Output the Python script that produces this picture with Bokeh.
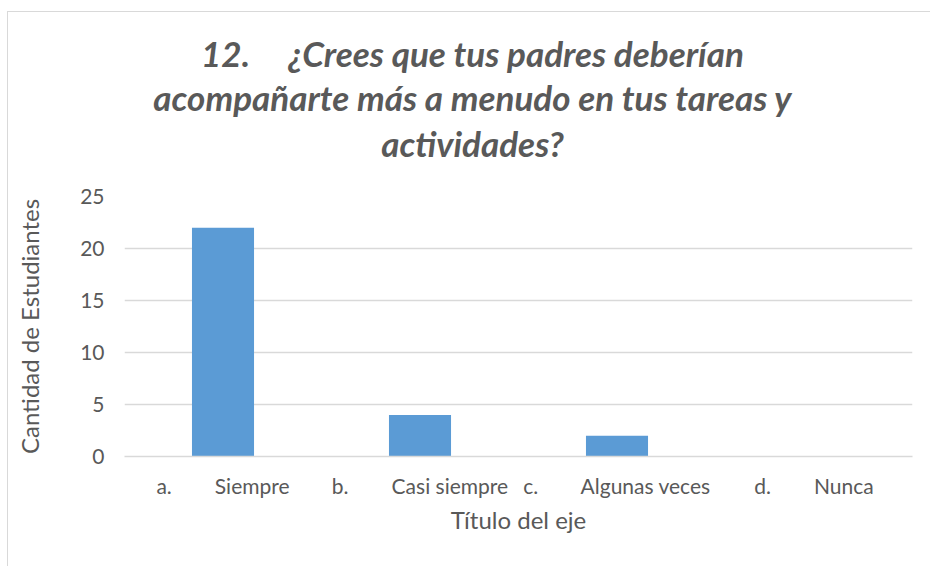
from bokeh.plotting import figure
from bokeh.models import FactorRange, Title, SingleIntervalTicker
from bokeh.embed import file_html
from bokeh.resources import INLINE

NB = "\u00a0"
letters = ["a.", "b.", "c.", "d."]
words = ["Siempre", "Casi siempre", "Algunas veces", "Nunca"]
values = [22, 4, 2, 0]
title_lines = ["12." + NB * 5 + "¿Crees que tus padres deberían",
               "acompañarte más a menudo en tus tareas y",
               "actividades?"]
y_label = "Cantidad de Estudiantes"
x_label = "Título del eje"

cats = [l + NB * 8 + w for l, w in zip(letters, words)]

FONT = "Lato"
GREY = "#595959"
LINE = "#d9d9d9"

p = figure(width=930, height=566, x_range=FactorRange(factors=cats), y_range=(0, 25),
           output_backend="svg", toolbar_location=None,
           min_border_left=124, min_border_right=18, min_border_top=196, min_border_bottom=110)
p.outline_line_color = None
p.background_fill_color = "white"
p.border_fill_color = None
grad = f"linear-gradient({LINE}, {LINE})"
p.styles = {
    "background-color": "white",
    "background-image": f"{grad}, {grad}",
    "background-position": "7px 11px, 7px 11px",
    "background-size": "1px 100%, 100% 1px",
    "background-repeat": "no-repeat, no-repeat",
}

p.vbar(x=cats, top=values, width=0.315, color="#5b9bd5", line_color=None)

p.yaxis.ticker = SingleIntervalTicker(interval=5)
p.ygrid.grid_line_color = LINE
p.ygrid.grid_line_width = 1.5
p.xgrid.grid_line_color = None

for ax in (p.xaxis[0], p.yaxis[0]):
    ax.major_tick_line_color = None
    ax.minor_tick_line_color = None
    ax.major_label_text_font = FONT
    ax.major_label_text_color = GREY
    ax.major_label_text_font_size = "21px"
    ax.axis_label_text_font = FONT
    ax.axis_label_text_color = GREY
    ax.axis_label_text_font_size = "24px"
    ax.axis_label_text_font_style = "normal"

p.yaxis.axis_line_color = None
p.xaxis.axis_line_color = LINE
p.xaxis.axis_line_width = 1.5
p.yaxis.major_label_standoff = 14
p.xaxis.major_label_standoff = 10
p.yaxis.axis_label = y_label
p.xaxis.axis_label = x_label
p.yaxis.axis_label_standoff = 33
p.xaxis.axis_label_standoff = 4

# spacer between the title and the plot area
p.add_layout(Title(text=NB, text_font_size="1px", standoff=28), "above")

pad = NB * 12
standoffs = [0, 0, 4]
for line, so in reversed(list(zip(title_lines, standoffs))):
    t = Title(text=line + pad, align="center",
              text_font=FONT, text_font_style="bold italic", text_font_size="35px",
              text_color=GREY, standoff=so)
    p.add_layout(t, "above")

open("out.html", "w").write(file_html(p, INLINE))
